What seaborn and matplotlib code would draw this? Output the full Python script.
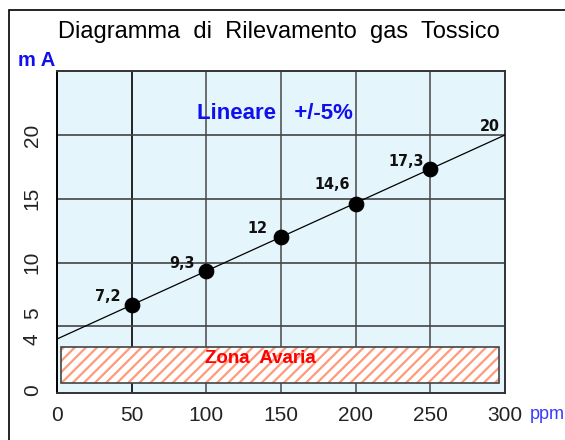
import matplotlib
matplotlib.use("Agg")
import matplotlib.pyplot as plt
from matplotlib.patches import Rectangle
from matplotlib.transforms import ScaledTranslation
import seaborn as sns
import pandas as pd

# measured points (ppm -> mA)
ppm = [50, 100, 150, 200, 250]
ma = [6.7, 9.3, 12.0, 14.6, 17.3]
point_labels = ["7,2", "9,3", "12", "14,6", "17,3"]

# linear reference line 4..20 mA over 0..300 ppm
line_ppm = [0, 300]
line_ma = [4, 20]
end_label = "20"

x_ticks = [0, 50, 100, 150, 200, 250, 300]
y_ticks = [0, 4, 5, 10, 15, 20]

# fault zone box
zone_x = [3, 296]
zone_y = [0.55, 3.4]

sns.set_style("white")
plt.rcParams['font.family'] = ['Liberation Sans', 'DejaVu Sans']

fig = plt.figure(figsize=(5.65, 4.4), dpi=100)
ax = fig.add_axes([57 / 565, 1 - 393 / 440, 448 / 565, 322 / 440])
ax.set_facecolor("#e5f5fc")

df_line = pd.DataFrame({"ppm": line_ppm, "ma": line_ma})
df_pts = pd.DataFrame({"ppm": ppm, "ma": ma})

sns.lineplot(data=df_line, x="ppm", y="ma", ax=ax, color="black", lw=0.9, zorder=3)
sns.scatterplot(data=df_pts, x="ppm", y="ma", ax=ax, color="black", s=110,
                edgecolor="black", zorder=4)

ax.set_xlim(0, 300)
ax.set_ylim(-0.235, 25.02)
ax.set_xticks(x_ticks)
ax.set_yticks(y_ticks)
ax.set_xlabel("")
ax.set_ylabel("")

# grid lines
for x in x_ticks[1:-1]:
    ax.axvline(x, color="black" if x == 50 else "#555555", lw=1.2, zorder=1)
for y in y_ticks[2:]:
    ax.axhline(y, color="#444444", lw=1.2, zorder=1, clip_on=False)

ax.tick_params(axis="x", length=0, labelsize=15, pad=9, colors="#222222")
ax.tick_params(axis="y", length=9, width=1.2, color="#555555", labelsize=15,
               pad=2, labelcolor="#222222")
for lab in ax.get_yticklabels():
    lab.set_rotation(90)
    lab.set_va("center")
    if lab.get_text() == "5":
        lab.set_transform(lab.get_transform() +
                          ScaledTranslation(0, 13 / 100, fig.dpi_scale_trans))

for s in ax.spines.values():
    s.set_color("#333333")
    s.set_linewidth(1.4)
ax.spines["left"].set_color("black")

# point labels
narrow = dict(fontsize=11.5, fontweight="bold", fontstretch="condensed",
              family=['Liberation Sans Narrow', 'DejaVu Sans'], color="#111111",
              ha="center", va="center")
for x, y, t in zip(ppm, ma, point_labels):
    dy = 1.5 if t == "14,6" else 0.65
    ax.text(x - 16, y + dy, t, **narrow)
ax.text(line_ppm[1] - 10, line_ma[1] + 0.7, end_label, **narrow)

# fault zone
plt.rcParams['hatch.color'] = "#ff9a7a"
plt.rcParams['hatch.linewidth'] = 1.6
ax.add_patch(Rectangle((zone_x[0], zone_y[0]), zone_x[1] - zone_x[0],
                       zone_y[1] - zone_y[0], facecolor="white", hatch="///",
                       edgecolor="#ff9a7a", lw=0, zorder=2))
ax.add_patch(Rectangle((zone_x[0], zone_y[0]), zone_x[1] - zone_x[0],
                       zone_y[1] - zone_y[0], fill=False, edgecolor="#444444",
                       lw=1.2, zorder=2.5))
ax.text(136, 2.5, "Zona  Avaria", color="red",
        fontsize=13.5, fontweight="bold", ha="center", va="center", zorder=5)

ax.text(146, 21.7, "Lineare   +/-5%", color="#1010ee", fontsize=16,
        fontweight="bold", ha="center", va="center")

# titles and units
fig.text(279 / 565, 1 - 32 / 440, "Diagramma  di  Rilevamento  gas  Tossico",
         ha="center", va="center", fontsize=17, color="black")
fig.text(37 / 565, 1 - 61 / 440, "m A", ha="center", va="center", fontsize=14.5,
         fontweight="bold", color="#1010ee")
fig.text(547 / 565, 1 - 414 / 440, "ppm", ha="center", va="center", fontsize=13,
         color="#3a3aff")

# outer frame (cropped on right and bottom)
fig.patches.append(Rectangle((9 / 565, -0.2), 1.2, 1.2 - 10 / 440, fill=False,
                             edgecolor="black", lw=1.2,
                             transform=fig.transFigure, figure=fig))

fig.savefig("out.png", dpi=100)
